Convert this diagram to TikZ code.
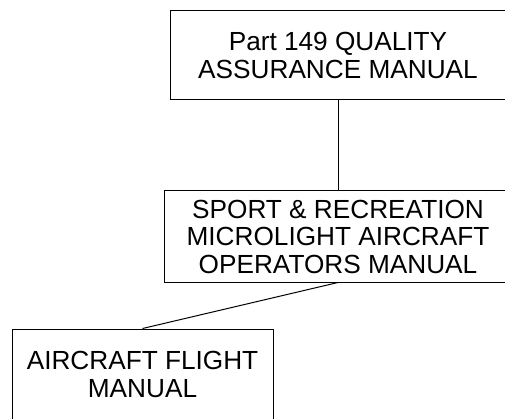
\documentclass[tikz,border=0pt]{standalone}
\usepackage{fontspec}
\setmainfont{Liberation Sans}
\usetikzlibrary{positioning}
\newcommand{\docfont}{\fontsize{26.2}{27.5}\selectfont}

\begin{document}
\begin{tikzpicture}
    [x=1pt, y=1pt,
    node distance =181pt,
    doc/.style={draw, rectangle, line width=1pt, align=center, inner sep=0pt, font=\docfont}]
    \useasboundingbox (0,0) rectangle (505,-419);
    \clip (0,0) rectangle (505,-419);
        %% manuals
    \node[doc, minimum width=336pt, minimum height=89pt] (QAM) at (338,-55.5) {Part 149 QUALITY\\ASSURANCE MANUAL};
        \node[doc, minimum width=348pt, minimum height=91pt, below of = QAM] (SRM) {SPORT \& RECREATION\\MICROLIGHT AIRCRAFT\\OPERATORS MANUAL};
        \node[doc, minimum width=261pt, minimum height=91pt] (AFM) at (142.5,-374.5) {AIRCRAFT FLIGHT\\MANUAL};

        \draw[line width=1pt] (QAM) to (SRM);
        \draw[line width=1pt] (SRM.south) to (AFM.north);
    \end{tikzpicture}
\end{document}
